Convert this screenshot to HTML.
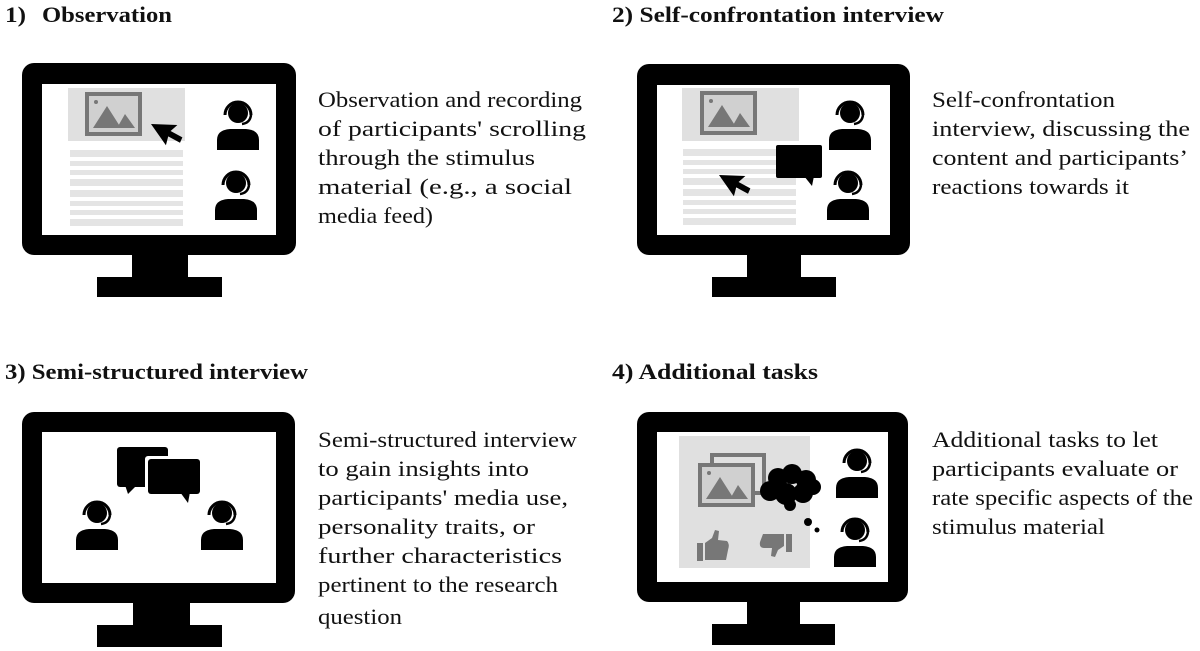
<!DOCTYPE html>
<html><head><meta charset="utf-8"><style>
html,body{margin:0;padding:0;background:#fff;width:1200px;height:651px;overflow:hidden}
svg{display:block}
text{font-family:"Liberation Serif",serif;fill:#111}
.h{font-weight:bold;font-size:22px}
.b{font-size:22px}
</style></head><body>
<svg width="1200" height="651" viewBox="0 0 1200 651">
<defs>
<g id="p">
<circle cx="0" cy="0" r="10" fill="#000"/>
<path d="M-13,2 A13,13 0 1 1 13,2" fill="none" stroke="#000" stroke-width="3"/>
<path d="M13,2 Q12,10 4,11" fill="none" stroke="#000" stroke-width="2.5"/>
<path d="M-21,37 L-21,27 Q-21,17 -8,16 L8,16 Q21,17 21,27 L21,37 Z" fill="#000"/>
</g>
<g id="img">
<rect x="0" y="0" width="53" height="40" fill="#d0d0d0" stroke="#777" stroke-width="4"/>
<path d="M6,34 L20,12 L34,34 Z M30,34 L38,20 L48,34 Z" fill="#777"/>
<circle cx="9" cy="8" r="2" fill="#777"/>
</g>
<g id="cur"><path d="M0,0 L0,26 L7,20 L13,32 L18,29 L12,17 L21,16 Z" fill="#000" transform="rotate(-35)"/></g>
<g id="lines">
<rect x="0" y="0" width="113" height="7" fill="#e4e4e4"/>
<rect x="0" y="11" width="113" height="5" fill="#e4e4e4"/>
<rect x="0" y="20" width="113" height="5" fill="#e4e4e4"/>
<rect x="0" y="29" width="113" height="7" fill="#e4e4e4"/>
<rect x="0" y="40" width="113" height="7" fill="#e4e4e4"/>
<rect x="0" y="51" width="113" height="5" fill="#e4e4e4"/>
<rect x="0" y="60" width="113" height="5" fill="#e4e4e4"/>
<rect x="0" y="69" width="113" height="7" fill="#e4e4e4"/>
</g>
</defs>

<!-- headings -->
<text class="h" x="5" y="22" textLength="21" lengthAdjust="spacingAndGlyphs">1)</text>
<text class="h" x="42" y="22" textLength="130" lengthAdjust="spacingAndGlyphs">Observation</text>
<text class="h" x="612" y="22" textLength="332" lengthAdjust="spacingAndGlyphs">2) Self-confrontation interview</text>
<text class="h" x="5" y="379" textLength="303" lengthAdjust="spacingAndGlyphs">3) Semi-structured interview</text>
<text class="h" x="612" y="379" textLength="206" lengthAdjust="spacingAndGlyphs">4) Additional tasks</text>

<!-- monitor 1 -->
<rect x="22" y="63" width="274" height="192" rx="12" fill="#000"/>
<rect x="42" y="84" width="234" height="151" fill="#fff"/>
<rect x="132" y="254" width="56" height="25" fill="#000"/>
<rect x="97" y="277" width="125" height="20" fill="#000"/>
<rect x="68" y="88" width="117" height="53" fill="#e0e0e0"/>
<use href="#img" x="87" y="94"/>
<use href="#lines" x="70" y="150"/>
<use href="#cur" x="151" y="124"/>
<use href="#p" x="238" y="113"/>
<use href="#p" x="236" y="183"/>
<text class="b" x="318" y="107" textLength="264" lengthAdjust="spacingAndGlyphs">Observation and recording</text>
<text class="b" x="318" y="136" textLength="268" lengthAdjust="spacingAndGlyphs">of participants' scrolling</text>
<text class="b" x="318" y="165" textLength="217" lengthAdjust="spacingAndGlyphs">through the stimulus</text>
<text class="b" x="318" y="194" textLength="254" lengthAdjust="spacingAndGlyphs">material (e.g., a social</text>
<text class="b" x="318" y="223" textLength="115" lengthAdjust="spacingAndGlyphs">media feed)</text>

<!-- monitor 2 -->
<rect x="637" y="64" width="273" height="191" rx="12" fill="#000"/>
<rect x="657" y="85" width="233" height="150" fill="#fff"/>
<rect x="747" y="254" width="54" height="25" fill="#000"/>
<rect x="712" y="277" width="124" height="20" fill="#000"/>
<rect x="682" y="88" width="117" height="53" fill="#e0e0e0"/>
<use href="#img" x="702" y="93"/>
<use href="#lines" x="683" y="149"/>
<use href="#cur" x="719" y="175"/>
<rect x="776" y="145" width="46" height="33" rx="2" fill="#000"/>
<path d="M804,176 L812,186 L814,176 Z" fill="#000"/>
<use href="#p" x="850" y="113"/>
<use href="#p" x="848" y="183"/>
<text class="b" x="932" y="107" textLength="183" lengthAdjust="spacingAndGlyphs">Self-confrontation</text>
<text class="b" x="932" y="136" textLength="258" lengthAdjust="spacingAndGlyphs">interview, discussing the</text>
<text class="b" x="932" y="165" textLength="256" lengthAdjust="spacingAndGlyphs">content and participants’</text>
<text class="b" x="932" y="194" textLength="197" lengthAdjust="spacingAndGlyphs">reactions towards it</text>

<!-- monitor 3 -->
<rect x="22" y="412" width="273" height="191" rx="12" fill="#000"/>
<rect x="42" y="432" width="234" height="151" fill="#fff"/>
<rect x="133" y="602" width="57" height="25" fill="#000"/>
<rect x="97" y="625" width="125" height="22" fill="#000"/>
<rect x="117" y="447" width="51" height="40" rx="3" fill="#000"/>
<path d="M125,485 L128,494 L137,485 Z" fill="#000"/>
<rect x="145" y="456" width="57" height="40" rx="3" fill="#fff"/>
<rect x="148" y="459" width="52" height="35" rx="3" fill="#000"/>
<path d="M180,492 L188,503 L190,492 Z" fill="#000"/>
<use href="#p" x="97" y="513"/>
<use href="#p" x="222" y="513"/>
<text class="b" x="318" y="447" textLength="259" lengthAdjust="spacingAndGlyphs">Semi-structured interview</text>
<text class="b" x="318" y="476" textLength="211" lengthAdjust="spacingAndGlyphs">to gain insights into</text>
<text class="b" x="318" y="505" textLength="250" lengthAdjust="spacingAndGlyphs">participants' media use,</text>
<text class="b" x="318" y="534" textLength="217" lengthAdjust="spacingAndGlyphs">personality traits, or</text>
<text class="b" x="318" y="563" textLength="244" lengthAdjust="spacingAndGlyphs">further characteristics</text>
<text class="b" x="318" y="592" textLength="240" lengthAdjust="spacingAndGlyphs">pertinent to the research</text>
<text class="b" x="318" y="624" textLength="84" lengthAdjust="spacingAndGlyphs">question</text>

<!-- monitor 4 -->
<rect x="637" y="412" width="271" height="190" rx="12" fill="#000"/>
<rect x="657" y="432" width="231" height="150" fill="#fff"/>
<rect x="747" y="601" width="53" height="25" fill="#000"/>
<rect x="712" y="624" width="123" height="21" fill="#000"/>
<rect x="679" y="436" width="131" height="132" fill="#e0e0e0"/>
<rect x="712" y="455" width="52" height="38" fill="none" stroke="#777" stroke-width="4"/>
<use href="#img" x="700" y="465"/>
<g fill="#000">
<circle cx="778" cy="478" r="10"/><circle cx="792" cy="474" r="10"/><circle cx="806" cy="480" r="10"/>
<circle cx="770" cy="491" r="10"/><circle cx="786" cy="494" r="11"/><circle cx="803" cy="493" r="10"/>
<circle cx="813" cy="487" r="8"/><circle cx="790" cy="505" r="6"/>
<circle cx="808" cy="522" r="4"/><circle cx="817" cy="530" r="2.5"/>
</g>
<g fill="#777">
<rect x="697" y="543" width="6" height="18"/>
<path d="M705,543 L712,538 L715,530 L719,531 L718,540 L727,541 Q730,544 728,550 L726,560 L705,560 Z"/>
<rect x="786" y="534" width="6" height="18"/>
<path d="M784,534 L763,534 L760,542 Q759,548 764,548 L772,548 L771,556 L775,557 L778,550 L784,546 Z"/>
</g>
<use href="#p" x="857" y="461"/>
<use href="#p" x="855" y="530"/>
<text class="b" x="932" y="447" textLength="226" lengthAdjust="spacingAndGlyphs">Additional tasks to let</text>
<text class="b" x="932" y="476" textLength="246" lengthAdjust="spacingAndGlyphs">participants evaluate or</text>
<text class="b" x="932" y="505" textLength="261" lengthAdjust="spacingAndGlyphs">rate specific aspects of the</text>
<text class="b" x="932" y="534" textLength="173" lengthAdjust="spacingAndGlyphs">stimulus material</text>
</svg>
</body></html>
